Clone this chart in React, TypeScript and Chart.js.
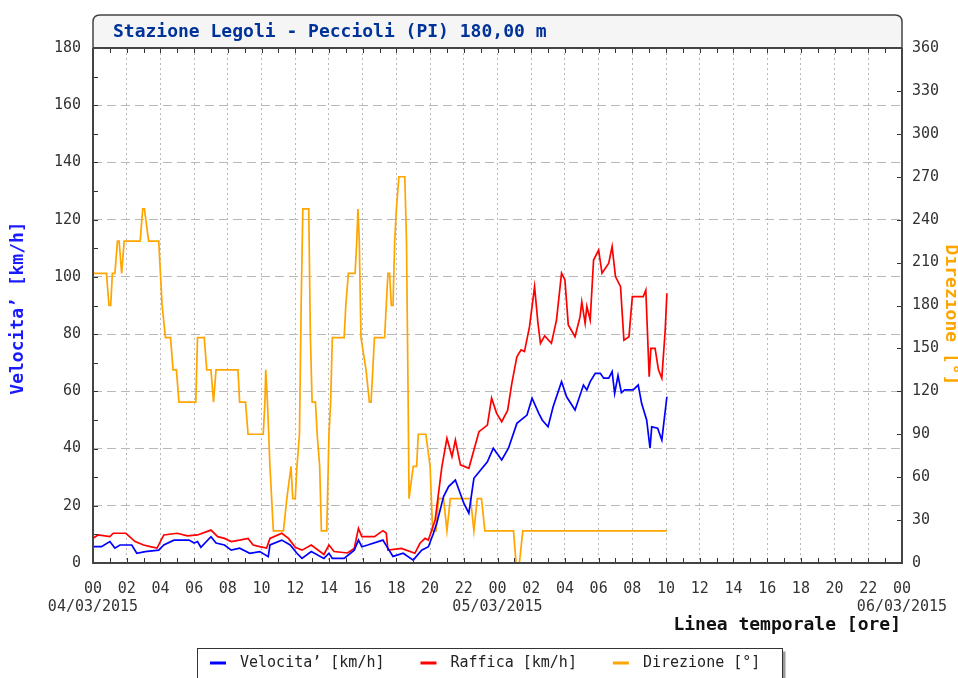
import React, { useEffect, useRef } from 'react';
import { Chart, registerables } from 'chart.js';

Chart.register(...registerables);

const FONT = "'DejaVu Sans Mono', 'Liberation Mono', monospace";

const CHART_TITLE = 'Stazione Legoli - Peccioli (PI) 180,00 m';
const X_TITLE = 'Linea temporale [ore]';
const Y_LEFT_TITLE = 'Velocita’ [km/h]';
const Y_RIGHT_TITLE = 'Direzione [°]';
const SERIES_LABELS = ['Velocita’ [km/h]', 'Raffica [km/h]', 'Direzione [°]'];
const SERIES_COLORS = ['#0000ff', '#ff0000', '#ffa500'];
const DATE_LABELS = ['04/03/2015', '05/03/2015', '06/03/2015'];

// Hours since 04/03/2015 00:00
const VEL_HOURS = [0, 0.5, 1.0, 1.3, 1.6, 2.3, 2.6, 3.1, 3.9, 4.2, 4.8, 5.7, 6.0, 6.2, 6.4, 7.0, 7.3, 7.8, 8.2, 8.7, 9.3, 9.9, 10.4, 10.5, 11.2, 11.7, 12.1, 12.4, 12.95, 13.7, 14.0, 14.2, 14.9, 15.5, 15.75, 15.95, 16.3, 17.2, 17.5, 17.8, 18.4, 19.0, 19.5, 19.9, 20.2, 20.4, 20.8, 21.1, 21.5, 22.0, 22.3, 22.6, 23.0, 23.4, 23.75, 24.25, 24.65, 25.15, 25.75, 26.05, 26.45, 26.65, 27.0, 27.3, 27.8, 28.1, 28.6, 29.1, 29.3, 29.5, 29.8, 30.1, 30.3, 30.6, 30.8, 30.95, 31.15, 31.35, 31.55, 32.05, 32.35, 32.55, 32.85, 33.05, 33.15, 33.5, 33.75, 34.05];
const VEL_VALUES = [5.7, 5.7, 7.5, 5.2, 6.3, 6.3, 3.4, 4.0, 4.5, 6.3, 8.0, 8.0, 7.0, 7.5, 5.5, 9.2, 7.0, 6.3, 4.5, 5.2, 3.4, 4.0, 2.2, 6.3, 8.0, 6.3, 3.4, 1.6, 4.0, 1.6, 3.4, 1.6, 1.6, 4.5, 8.0, 5.7, 6.3, 8.0, 5.1, 2.3, 3.4, 1.0, 4.5, 5.7, 10.4, 14, 23.2, 26.7, 29, 20.9, 17.4, 29.6, 32.5, 35.4, 40.1, 36, 40.1, 48.8, 51.7, 57.6, 52.3, 50, 47.6, 54.6, 63.4, 58.1, 53.5, 62.2, 60.5, 63.4, 66.3, 66.3, 64.6, 64.6, 66.9, 59.3, 65.5, 59.5, 60.5, 60.5, 62.2, 55.8, 50, 40.1, 47.6, 47.1, 43, 58.1];

const GUST_HOURS = [0, 0.3, 1.0, 1.2, 1.95, 2.5, 3.0, 3.4, 3.8, 4.2, 5.0, 5.6, 6.2, 7.0, 7.4, 7.8, 8.2, 8.7, 9.2, 9.5, 9.9, 10.3, 10.5, 11.2, 11.6, 12.0, 12.4, 12.95, 13.7, 14.0, 14.3, 15.1, 15.5, 15.75, 15.95, 16.7, 17.2, 17.4, 17.5, 18.3, 19.1, 19.4, 19.7, 19.9, 20.3, 20.7, 21.0, 21.3, 21.5, 21.8, 22.3, 22.6, 22.9, 23.4, 23.65, 23.95, 24.25, 24.6, 24.85, 25.15, 25.4, 25.6, 25.9, 26.2, 26.4, 26.55, 26.8, 27.2, 27.5, 27.8, 28.0, 28.2, 28.6, 28.9, 29.0, 29.2, 29.3, 29.5, 29.7, 30.0, 30.2, 30.6, 30.8, 31.0, 31.3, 31.5, 31.8, 32.0, 32.65, 32.8, 33.0, 33.1, 33.35, 33.55, 33.75, 33.95, 34.05];
const GUST_VALUES = [8.6, 9.8, 9.2, 10.4, 10.4, 7.5, 6.3, 5.7, 5.2, 9.8, 10.4, 9.5, 9.8, 11.5, 9.2, 8.6, 7.5, 8.0, 8.6, 6.3, 5.7, 5.2, 8.6, 10.4, 8.6, 5.5, 4.5, 6.3, 3.0, 6.3, 4.0, 3.5, 5.1, 12.1, 9.2, 9.2, 11.3, 10.5, 4.5, 5.1, 3.4, 6.9, 8.6, 8.0, 15, 33.7, 43.6, 37.2, 43, 34.3, 33.1, 39.5, 45.9, 48.2, 57.6, 52.3, 49.4, 53.3, 62.8, 72.1, 74.5, 73.9, 82.6, 96.6, 83.8, 76.8, 79.4, 76.8, 84.9, 101.3, 99, 83.2, 79.1, 86.1, 91.3, 83.8, 89.7, 84.9, 105.9, 109.4, 101.3, 104.8, 110.6, 100.1, 96.6, 77.9, 79.1, 93.1, 93.1, 95.4, 65.1, 75, 75, 67.5, 64.6, 81.4, 94.3];

const DIR_HOURS = [0, 0.8, 0.95, 1.05, 1.15, 1.3, 1.45, 1.55, 1.7, 1.85, 2.8, 2.95, 3.05, 3.3, 3.9, 4.0, 4.1, 4.3, 4.6, 4.75, 4.95, 5.1, 6.1, 6.2, 6.6, 6.75, 7.0, 7.15, 7.3, 8.6, 8.7, 9.05, 9.2, 10.1, 10.2, 10.25, 10.35, 10.5, 10.7, 11.3, 11.5, 11.75, 11.85, 12.0, 12.1, 12.25, 12.35, 12.45, 12.8, 12.9, 13.0, 13.2, 13.3, 13.45, 13.55, 13.87, 14.0, 14.1, 14.2, 14.9, 15.0, 15.15, 15.55, 15.65, 15.72, 15.8, 15.9, 16.2, 16.4, 16.5, 16.6, 16.7, 17.3, 17.4, 17.5, 17.6, 17.7, 17.8, 17.9, 18.0, 18.15, 18.5, 18.6, 18.7, 18.75, 19.0, 19.2, 19.3, 19.75, 20.0, 20.15, 20.35, 20.5, 20.8, 21.0, 21.2, 22.4, 22.6, 22.8, 23.05, 23.25, 24.95, 25.1, 25.3, 25.5, 34.05];
const DIR_VALUES = [202.5, 202.5, 180, 180, 202.5, 202.5, 225, 225, 202.5, 225, 225, 247.5, 247.5, 225, 225, 202.5, 180, 157.5, 157.5, 135, 135, 112.5, 112.5, 157.5, 157.5, 135, 135, 112.5, 135, 135, 112.5, 112.5, 90, 90, 112.5, 135, 112.5, 67.5, 22.5, 22.5, 45, 67.5, 45, 45, 67.5, 90, 180, 247.5, 247.5, 157.5, 112.5, 112.5, 90, 67.5, 22.5, 22.5, 90, 112.5, 157.5, 157.5, 180, 202.5, 202.5, 225, 247.5, 225, 157.5, 135, 112.5, 112.5, 135, 157.5, 157.5, 180, 202.5, 202.5, 180, 180, 225, 247.5, 270, 270, 225, 112.5, 45, 67.5, 67.5, 90, 90, 67.5, 22.5, 22.5, 45, 45, 22.5, 45, 45, 22.5, 45, 45, 22.5, 22.5, 0, 0, 22.5, 22.5];

const toPoints = (xs: number[], ys: number[]) => xs.map((x, i) => ({ x, y: ys[i] }));

const pad2 = (n: number) => String(n).padStart(2, '0');

const decorPlugin = {
  id: 'decor',
  beforeDraw(chart: any) {
    const { ctx, width, height } = chart;
    ctx.save();
    ctx.fillStyle = '#ffffff';
    ctx.fillRect(0, 0, width, height);
    ctx.restore();
  },
  afterDatasetsDraw(chart: any) {
    const { ctx, chartArea: a, scales } = chart;
    const xs = scales.x;
    const yl = scales.y;
    const yr = scales.y1;
    ctx.save();
    ctx.strokeStyle = '#333333';
    ctx.lineWidth = 1;
    ctx.beginPath();
    for (let h = 0; h <= 48; h++) {
      const px = Math.round(xs.getPixelForValue(h)) + 0.5;
      ctx.moveTo(px, a.bottom);
      ctx.lineTo(px, a.bottom - 5);
      ctx.moveTo(px, a.top);
      ctx.lineTo(px, a.top + 5);
    }
    for (let v = 0; v <= 180; v += 10) {
      const py = Math.round(yl.getPixelForValue(v)) + 0.5;
      ctx.moveTo(a.left, py);
      ctx.lineTo(a.left + 5, py);
    }
    for (let d = 0; d <= 360; d += 30) {
      const py = Math.round(yr.getPixelForValue(d)) + 0.5;
      ctx.moveTo(a.right, py);
      ctx.lineTo(a.right - 5, py);
    }
    ctx.stroke();
    ctx.strokeStyle = '#444444';
    ctx.lineWidth = 2;
    ctx.beginPath();
    ctx.moveTo(a.left, a.top);
    ctx.lineTo(a.left, a.bottom);
    ctx.lineTo(a.right, a.bottom);
    ctx.lineTo(a.right, a.top);
    ctx.stroke();
    ctx.restore();
  },
  afterDraw(chart: any) {
    const { ctx, chartArea: a } = chart;
    ctx.save();
    const top = 15;
    const r = 7;
    ctx.beginPath();
    ctx.moveTo(a.left, a.top);
    ctx.lineTo(a.left, top + r);
    ctx.quadraticCurveTo(a.left, top, a.left + r, top);
    ctx.lineTo(a.right - r, top);
    ctx.quadraticCurveTo(a.right, top, a.right, top + r);
    ctx.lineTo(a.right, a.top);
    ctx.closePath();
    ctx.fillStyle = '#f5f5f5';
    ctx.fill();
    ctx.strokeStyle = '#444444';
    ctx.lineWidth = 1.5;
    ctx.stroke();
    ctx.beginPath();
    ctx.lineWidth = 2;
    ctx.moveTo(a.left, a.top);
    ctx.lineTo(a.right, a.top);
    ctx.stroke();
    ctx.fillStyle = '#003399';
    ctx.font = `bold 18px ${FONT}`;
    ctx.textAlign = 'left';
    ctx.textBaseline = 'middle';
    ctx.fillText(CHART_TITLE, a.left + 20, 32);

    ctx.font = `bold 18px ${FONT}`;
    ctx.textAlign = 'center';
    ctx.save();
    ctx.translate(18, 308);
    ctx.rotate(-Math.PI / 2);
    ctx.fillStyle = '#1a1aff';
    ctx.fillText(Y_LEFT_TITLE, 0, 0);
    ctx.restore();
    ctx.save();
    ctx.translate(951, 315);
    ctx.rotate(Math.PI / 2);
    ctx.fillStyle = '#ffa500';
    ctx.fillText(Y_RIGHT_TITLE, 0, 0);
    ctx.restore();
    ctx.fillStyle = '#111111';
    ctx.textAlign = 'right';
    ctx.fillText(X_TITLE, a.right - 1, 625);

    const lx = 197.5, ly = 648.5, lw = 585, lh = 40;
    ctx.fillStyle = '#999999';
    ctx.fillRect(lx + 3, ly + 3, lw, lh);
    ctx.fillStyle = '#ffffff';
    ctx.fillRect(lx, ly, lw, lh);
    ctx.strokeStyle = '#333333';
    ctx.lineWidth = 1;
    ctx.strokeRect(lx, ly, lw, lh);
    ctx.font = `15px ${FONT}`;
    ctx.textAlign = 'left';
    ctx.textBaseline = 'middle';
    let x = 210;
    const cy = 663;
    chart.data.datasets.forEach((ds: any) => {
      ctx.strokeStyle = ds.borderColor;
      ctx.lineWidth = 3;
      ctx.beginPath();
      ctx.moveTo(x, cy);
      ctx.lineTo(x + 16, cy);
      ctx.stroke();
      ctx.fillStyle = '#222222';
      ctx.fillText(ds.label, x + 30, cy);
      x += 30 + ctx.measureText(ds.label).width + 36;
    });
    ctx.restore();
  },
};

export default function App() {
  const ref = useRef<HTMLCanvasElement | null>(null);
  useEffect(() => {
    if (!ref.current) return;
    const chart = new Chart(ref.current, {
      type: 'line',
      data: {
        datasets: [
          {
            label: SERIES_LABELS[0],
            data: toPoints(VEL_HOURS, VEL_VALUES),
            borderColor: SERIES_COLORS[0],
            backgroundColor: SERIES_COLORS[0],
            yAxisID: 'y',
          },
          {
            label: SERIES_LABELS[1],
            data: toPoints(GUST_HOURS, GUST_VALUES),
            borderColor: SERIES_COLORS[1],
            backgroundColor: SERIES_COLORS[1],
            yAxisID: 'y',
          },
          {
            label: SERIES_LABELS[2],
            data: toPoints(DIR_HOURS, DIR_VALUES),
            borderColor: SERIES_COLORS[2],
            backgroundColor: SERIES_COLORS[2],
            yAxisID: 'y1',
          },
        ],
      },
      options: {
        responsive: false,
        devicePixelRatio: 1,
        animation: false,
        elements: {
          point: { radius: 0, hoverRadius: 0 },
          line: { borderWidth: 1.7, tension: 0 },
        },
        layout: { padding: { top: 48, left: 0, right: 0, bottom: 0 } },
        plugins: {
          legend: { display: false },
          title: { display: false },
          tooltip: { enabled: false },
        },
        scales: {
          x: {
            type: 'linear',
            min: 0,
            max: 48,
            afterFit: (s: any) => {
              s.height = 115;
              s.paddingLeft = 0;
              s.paddingRight = 0;
            },
            ticks: {
              stepSize: 1,
              autoSkip: false,
              maxRotation: 0,
              padding: 17,
              color: '#333333',
              font: { family: FONT, size: 15, lineHeight: 1.2 },
              callback: (v: any) => {
                const h = Number(v);
                if (h % 2 !== 0) return '';
                const lab = pad2(h % 24);
                if (h % 24 === 0) return [lab, DATE_LABELS[h / 24]];
                return lab;
              },
            },
            grid: {
              drawTicks: false,
              lineWidth: 1,
              color: (c: any) => {
                const v = c.tick ? c.tick.value : 0;
                return v % 2 === 0 && v > 0 && v < 48 ? '#b8b8b8' : 'rgba(0,0,0,0)';
              },
            },
            border: { display: false, dash: [2, 3] },
          },
          y: {
            type: 'linear',
            position: 'left',
            min: 0,
            max: 180,
            afterFit: (s: any) => {
              s.width = 93;
              s.paddingTop = 0;
              s.paddingBottom = 0;
            },
            ticks: {
              stepSize: 10,
              padding: 12,
              color: '#333333',
              font: { family: FONT, size: 15 },
              callback: (v: any) => (Number(v) % 20 === 0 ? String(v) : ''),
            },
            grid: {
              drawTicks: false,
              lineWidth: 1,
              color: (c: any) => {
                const v = c.tick ? c.tick.value : 0;
                return v % 20 === 0 && v > 0 && v < 180 ? '#b8b8b8' : 'rgba(0,0,0,0)';
              },
            },
            border: { display: false, dash: [9, 5] },
          },
          y1: {
            type: 'linear',
            position: 'right',
            min: 0,
            max: 360,
            afterFit: (s: any) => {
              s.width = 56;
              s.paddingTop = 0;
              s.paddingBottom = 0;
            },
            ticks: {
              stepSize: 30,
              padding: 10,
              color: '#333333',
              font: { family: FONT, size: 15 },
            },
            grid: { display: false, drawTicks: false },
            border: { display: false },
          },
        },
      },
      plugins: [decorPlugin],
    } as any);
    return () => chart.destroy();
  }, []);

  return (
    <div style={{ position: 'fixed', left: 0, top: 0, width: 958, height: 678, background: '#fff' }}>
      <canvas ref={ref} width={958} height={678} style={{ width: 958, height: 678, display: 'block' }} />
    </div>
  );
}
